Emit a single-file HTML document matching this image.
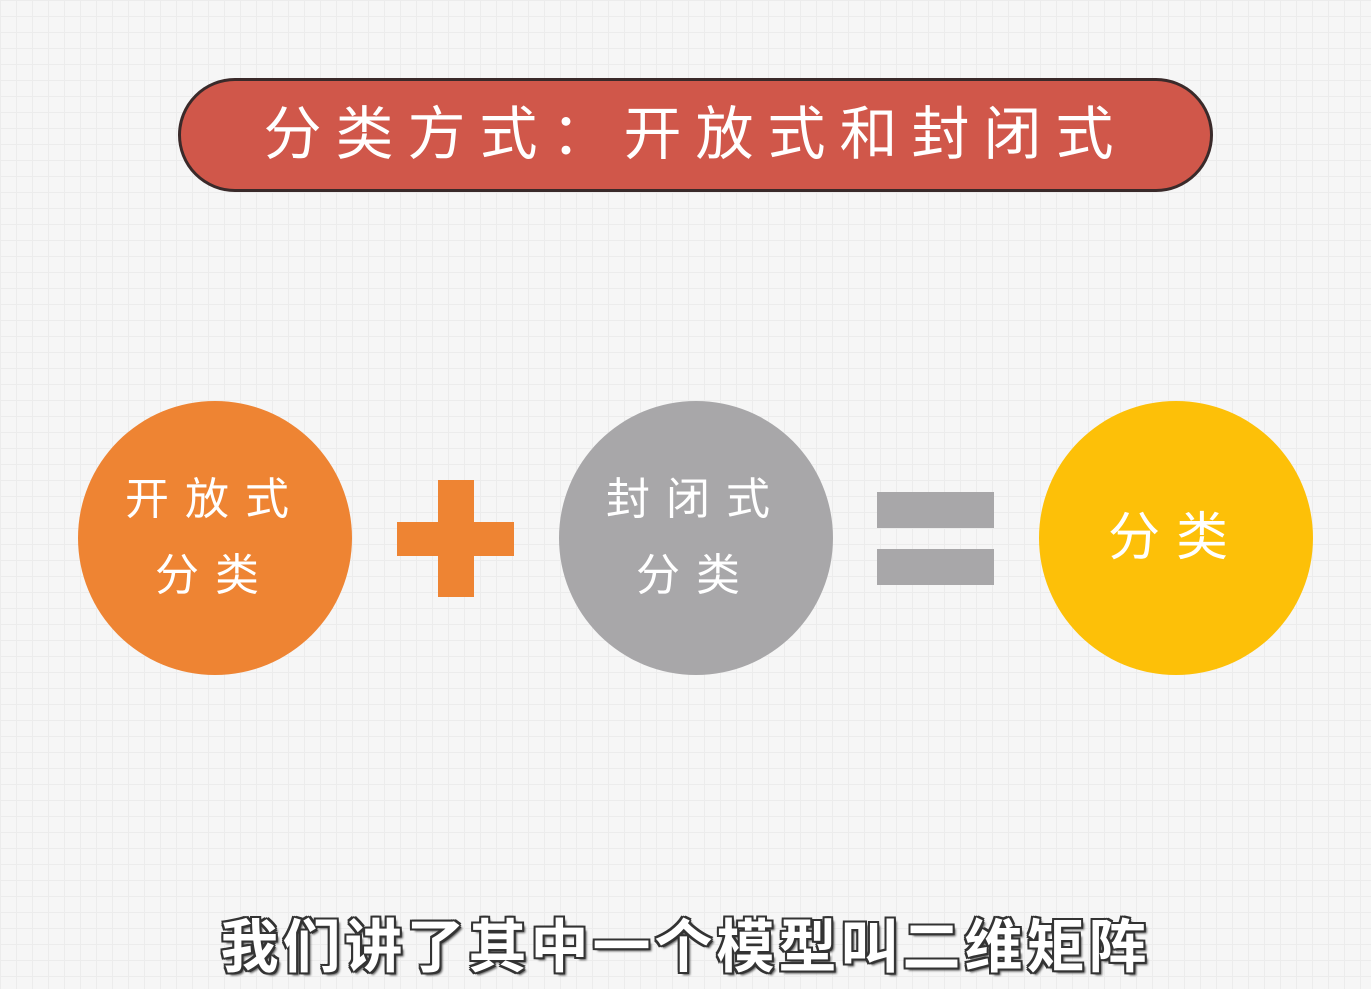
<!DOCTYPE html>
<html><head><meta charset="utf-8">
<style>
html,body{margin:0;padding:0}
body{width:1371px;height:989px;overflow:hidden;position:relative;
background-color:#f6f6f6;
background-image:linear-gradient(#ececec 1px,transparent 1px),linear-gradient(90deg,#ececec 1px,transparent 1px);
background-size:16px 16px;
font-family:"Liberation Sans","Noto Sans CJK SC",sans-serif;}
.banner{position:absolute;left:178px;top:78px;width:1035px;height:114px;background:#d0574a;border:3px solid #3a2a2a;border-radius:57px;box-sizing:border-box;
color:#fff;font-size:58px;letter-spacing:14px;text-align:center;line-height:108px;}
.circle{position:absolute;width:274px;height:274px;border-radius:50%;color:#fff;display:flex;align-items:center;justify-content:center;text-align:center;font-size:44px;letter-spacing:16px;line-height:76px}
.bar{position:absolute;}
.sub{position:absolute;left:0;width:1371px;top:900px;text-align:center;font-size:58px;font-weight:bold;color:#fff;
text-shadow:-2px -2px 0 #333,2px -2px 0 #333,-2px 2px 0 #333,2px 2px 0 #333,0 2px 0 #333,0 -2px 0 #333,2px 0 0 #333,-2px 0 0 #333,3px 3px 2px #555;letter-spacing:4px;}
</style></head><body>
<div class="banner">分类方式：开放式和封闭式</div>
<div class="circle" style="left:78px;top:401px;background:#ee8433">开放式<br>分类</div>
<div class="bar" style="left:397px;top:522px;width:117px;height:34px;background:#ee8433"></div>
<div class="bar" style="left:438px;top:480px;width:36px;height:117px;background:#ee8433"></div>
<div class="circle" style="left:559px;top:401px;background:#a8a7a9">封闭式<br>分类</div>
<div class="bar" style="left:877px;top:492px;width:117px;height:36px;background:#a8a7a9"></div>
<div class="bar" style="left:877px;top:549px;width:117px;height:36px;background:#a8a7a9"></div>
<div class="circle" style="left:1039px;top:401px;background:#fdc008;font-size:52px">分类</div>
<div class="sub">我们讲了其中一个模型叫二维矩阵</div>
</body></html>
